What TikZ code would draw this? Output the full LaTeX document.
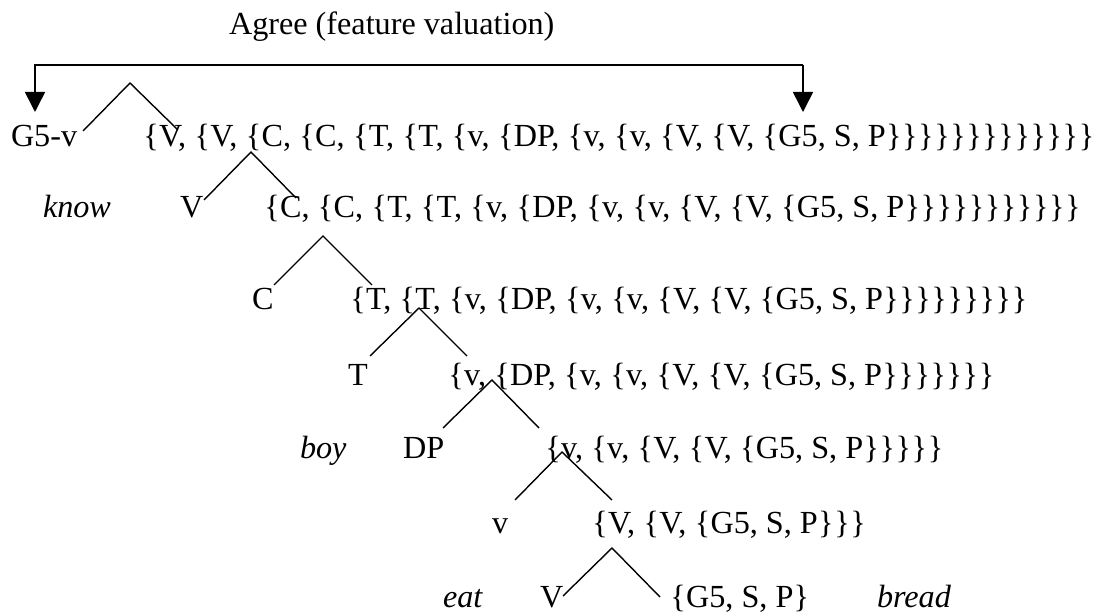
\documentclass[tikz,border=0pt]{standalone}
\usepackage{fontspec}
\setmainfont{Liberation Serif}
\usetikzlibrary{arrows.meta}
\newcommand\ob{\kern0.3pt\{\kern0.3pt}
\newcommand\cb{\kern0.3pt\}\kern0.3pt}
\begin{document}
\begin{tikzpicture}[x=1pt,y=-1pt,
  txt/.style={inner sep=0pt, outer sep=0pt, anchor=base west, font=\fontsize{32.2}{38}\selectfont},
  itxt/.style={txt, font=\fontsize{32.2}{38}\selectfont\itshape},
  branch/.style={line width=1.4pt, line cap=butt},
  agreearrow/.style={line width=1.6pt, -{Triangle[width=20pt,length=20pt]}}]
\useasboundingbox (0,0) rectangle (1109,612);

% title
\node[txt] (agree) at (229,35) {Agree (feature valuation)};

% row 1
\node[txt] (g5v) at (11,147) {G5-v};
\node[txt] (r1) at (143,147) {\ob V, \ob V, \ob C, \ob C, \ob T, \ob T, \ob v, \ob DP, \ob v, \ob v, \ob V, \ob V, \ob G5, S, P\cb\cb\cb\cb\cb\cb\cb\cb\cb\cb\cb\cb\cb};
% row 2
\node[itxt] (know) at (43,218) {know};
\node[txt] (V2) at (180,218) {V};
\node[txt] (r2) at (264,218) {\ob C, \ob C, \ob T, \ob T, \ob v, \ob DP, \ob v, \ob v, \ob V, \ob V, \ob G5, S, P\cb\cb\cb\cb\cb\cb\cb\cb\cb\cb\cb};
% row 3
\node[txt] (C3) at (252,310) {C};
\node[txt] (r3) at (350,310) {\ob T, \ob T, \ob v, \ob DP, \ob v, \ob v, \ob V, \ob V, \ob G5, S, P\cb\cb\cb\cb\cb\cb\cb\cb\cb};
% row 4
\node[txt] (T4) at (348,385) {T};
\node[txt] (r4) at (448,385) {\ob v, \ob DP, \ob v, \ob v, \ob V, \ob V, \ob G5, S, P\cb\cb\cb\cb\cb\cb\cb};
% row 5
\node[itxt] (boy) at (300,458) {boy};
\node[txt] (DP5) at (403,458) {DP};
\node[txt] (r5) at (545,458) {\ob v, \ob v, \ob V, \ob V, \ob G5, S, P\cb\cb\cb\cb\cb};
% row 6
\node[txt] (v6) at (492,533) {v};
\node[txt] (r6) at (592,533) {\ob V, \ob V, \ob G5, S, P\cb\cb\cb};
% row 7
\node[itxt] (eat) at (443,607) {eat};
\node[txt] (V7) at (540,607) {V};
\node[txt] (r7) at (670,607) {\ob G5, S, P\cb};
\node[itxt] (bread) at (877,607) {bread};

% tree branches
\coordinate (a1) at (130,83);  \coordinate (l1) at (83,131);  \coordinate (e1) at (178,130);
\coordinate (a2) at (251,152); \coordinate (l2) at (204,200); \coordinate (e2) at (296,198);
\coordinate (a3) at (323,236); \coordinate (l3) at (274,285); \coordinate (e3) at (372,285);
\coordinate (a4) at (419,308); \coordinate (l4) at (370,356); \coordinate (e4) at (467,356);
\coordinate (a5) at (492,380); \coordinate (l5) at (443,428); \coordinate (e5) at (539,428);
\coordinate (a6) at (562,452); \coordinate (l6) at (515,500); \coordinate (e6) at (612,500);
\coordinate (a7) at (612,548); \coordinate (l7) at (563,596); \coordinate (e7) at (660,597);
\foreach \i in {1,...,7} {
  \draw[branch] (l\i) -- (a\i) -- (e\i);
}

% agree arrow
\coordinate (tipL) at (35,112);
\coordinate (cornL) at (35,65);
\coordinate (cornR) at (803,65);
\coordinate (tipR) at (803,112);
\draw[agreearrow] (cornR) -- (cornL) -- (tipL);
\draw[agreearrow] (cornR) -- (tipR);
\end{tikzpicture}
\end{document}
